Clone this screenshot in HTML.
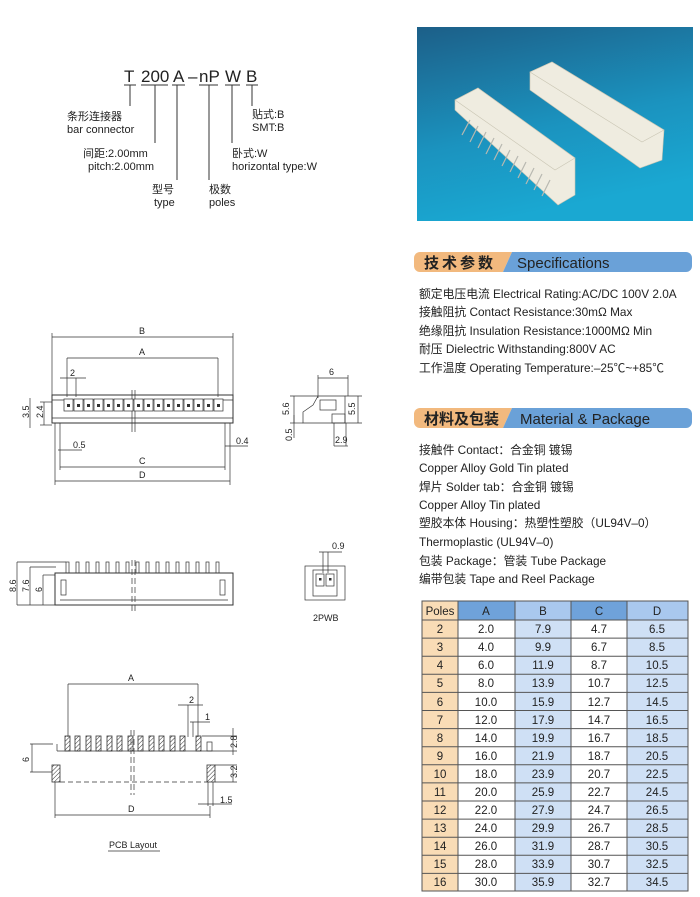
<!DOCTYPE html>
<html><head><meta charset="utf-8"><style>
html,body{margin:0;padding:0;background:#fff;}
svg{display:block;}
text{font-family:"Liberation Sans","Noto Sans CJK SC",sans-serif;fill:#222;}
</style></head><body>
<svg width="700" height="897" viewBox="0 0 700 897" xmlns="http://www.w3.org/2000/svg">
<defs>
<linearGradient id="bg" x1="0" y1="0" x2="0.3" y2="1">
<stop offset="0" stop-color="#1c5f88"/><stop offset="0.6" stop-color="#1b93bf"/><stop offset="1" stop-color="#1aa8d2"/></linearGradient>
<pattern id="hatch" width="3" height="3" patternUnits="userSpaceOnUse" patternTransform="rotate(45)"><line x1="0" y1="0" x2="0" y2="3" stroke="#333" stroke-width="1"/></pattern>
</defs>

<!-- Part number -->
<g font-size="17">
<text x="124" y="82">T</text><text x="141" y="82">200</text><text x="173" y="82">A</text><text x="188" y="82">–</text>
<text x="199" y="82">nP</text><text x="225" y="82">W</text><text x="246" y="82">B</text>
</g>
<g stroke="#333" stroke-width="1" fill="none">
<line x1="124" y1="85" x2="136" y2="85"/><line x1="141" y1="85" x2="168" y2="85"/><line x1="172" y1="85" x2="185" y2="85"/>
<line x1="199" y1="85" x2="218" y2="85"/><line x1="225" y1="85" x2="240" y2="85"/><line x1="246" y1="85" x2="258" y2="85"/>
<line x1="130" y1="85" x2="130" y2="106"/><line x1="155" y1="85" x2="155" y2="143"/><line x1="177" y1="85" x2="177" y2="180"/>
<line x1="209" y1="85" x2="209" y2="180"/><line x1="232" y1="85" x2="232" y2="143"/><line x1="252" y1="85" x2="252" y2="106"/>
</g>
<g font-size="11">
<text x="67" y="120">条形连接器</text><text x="67" y="133">bar connector</text>
<text x="83" y="157">间距:2.00mm</text><text x="88" y="170">pitch:2.00mm</text>
<text x="152" y="193">型号</text><text x="154" y="206">type</text>
<text x="209" y="193">极数</text><text x="209" y="206">poles</text>
<text x="232" y="157">卧式:W</text><text x="232" y="170">horizontal type:W</text>
<text x="252" y="118">贴式:B</text><text x="252" y="131">SMT:B</text>
</g>

<!-- Photo -->
<rect x="417" y="27" width="276" height="194" fill="url(#bg)"/>
<g fill="#efece0" stroke="#c9c5b3" stroke-width="0.6">
<polygon points="455,100 478,88 575,158 575,195 558,205 455,110"/>
<polygon points="530,72 552,62 664,130 662,160 640,168 530,90"/>
<polygon points="455,100 478,88 575,158 555,170"/>
<polygon points="530,72 552,62 664,130 642,142"/>
</g>
<g stroke="#b8b8b0" stroke-width="1.2">
<line x1="470" y1="120" x2="462" y2="135"/><line x1="478" y1="126" x2="470" y2="142"/><line x1="486" y1="132" x2="478" y2="148"/><line x1="494" y1="138" x2="486" y2="154"/><line x1="502" y1="144" x2="494" y2="160"/><line x1="510" y1="150" x2="502" y2="166"/><line x1="518" y1="156" x2="510" y2="172"/><line x1="526" y1="162" x2="518" y2="178"/><line x1="534" y1="168" x2="526" y2="184"/><line x1="542" y1="174" x2="534" y2="190"/><line x1="550" y1="180" x2="542" y2="196"/>
</g>

<!-- Spec header -->
<path d="M420,252 H512 L503,272 H420 A6,6 0 0 1 414,266 V258 A6,6 0 0 1 420,252Z" fill="#f2b97e"/>
<path d="M512,252 H686 A6,6 0 0 1 692,258 V266 A6,6 0 0 1 686,272 H503Z" fill="#6aa1d8"/>
<text x="424" y="268" font-size="15" font-weight="bold" letter-spacing="3">技术参数</text>
<text x="517" y="268" font-size="15">Specifications</text>
<g font-size="11.8">
<text x="419" y="298">额定电压电流 Electrical Rating:AC/DC 100V 2.0A</text>
<text x="419" y="316">接触阻抗 Contact Resistance:30mΩ Max</text>
<text x="419" y="335">绝缘阻抗 Insulation Resistance:1000MΩ Min</text>
<text x="419" y="353">耐压 Dielectric Withstanding:800V AC</text>
<text x="419" y="372">工作温度 Operating Temperature:–25℃~+85℃</text>
</g>
<path d="M420,408 H512 L503,428 H420 A6,6 0 0 1 414,422 V414 A6,6 0 0 1 420,408Z" fill="#f2b97e"/>
<path d="M512,408 H686 A6,6 0 0 1 692,414 V422 A6,6 0 0 1 686,428 H503Z" fill="#6aa1d8"/>
<text x="424" y="424" font-size="15" font-weight="bold">材料及包装</text>
<text x="520" y="424" font-size="15">Material &amp; Package</text>
<g font-size="11.8">
<text x="419" y="454">接触件 Contact：合金铜 镀锡</text>
<text x="419" y="472">Copper Alloy Gold Tin plated</text>
<text x="419" y="491">焊片 Solder tab：合金铜 镀锡</text>
<text x="419" y="509">Copper Alloy Tin plated</text>
<text x="419" y="527">塑胶本体 Housing：热塑性塑胶（UL94V–0）</text>
<text x="419" y="546">Thermoplastic (UL94V–0)</text>
<text x="419" y="565">包装 Package：管装 Tube Package</text>
<text x="419" y="583">编带包装 Tape and Reel Package</text>
</g>

<!-- Table -->
<g>
<rect x="422" y="601" width="36" height="290" fill="#f9dcb6"/>
<rect x="458" y="601" width="57" height="19" fill="#6fa2da"/>
<rect x="515" y="601" width="56" height="19" fill="#a9c8ee"/>
<rect x="571" y="601" width="56" height="19" fill="#6fa2da"/>
<rect x="627" y="601" width="61" height="19" fill="#a9c8ee"/>
<rect x="515" y="620" width="56" height="271" fill="#cfe0f5"/>
<rect x="627" y="620" width="61" height="271" fill="#cfe0f5"/>
<g stroke="#555" stroke-width="1" fill="none">
<rect x="422" y="601" width="266" height="290"/>
<line x1="458" y1="601" x2="458" y2="891"/><line x1="515" y1="601" x2="515" y2="891"/><line x1="571" y1="601" x2="571" y2="891"/><line x1="627" y1="601" x2="627" y2="891"/>
<line x1="422" y1="620" x2="688" y2="620"/><line x1="422" y1="638.1" x2="688" y2="638.1"/><line x1="422" y1="656.2" x2="688" y2="656.2"/><line x1="422" y1="674.3" x2="688" y2="674.3"/><line x1="422" y1="692.4" x2="688" y2="692.4"/><line x1="422" y1="710.5" x2="688" y2="710.5"/><line x1="422" y1="728.6" x2="688" y2="728.6"/><line x1="422" y1="746.7" x2="688" y2="746.7"/><line x1="422" y1="764.8" x2="688" y2="764.8"/><line x1="422" y1="782.9" x2="688" y2="782.9"/><line x1="422" y1="801" x2="688" y2="801"/><line x1="422" y1="819.1" x2="688" y2="819.1"/><line x1="422" y1="837.2" x2="688" y2="837.2"/><line x1="422" y1="855.3" x2="688" y2="855.3"/><line x1="422" y1="873.4" x2="688" y2="873.4"/>
</g>
<g font-size="11.5" text-anchor="middle">
<text x="440" y="615">Poles</text><text x="486" y="615">A</text><text x="543" y="615">B</text><text x="599" y="615">C</text><text x="657" y="615">D</text>
<text x="440" y="633">2</text><text x="486" y="633">2.0</text><text x="543" y="633">7.9</text><text x="599" y="633">4.7</text><text x="657" y="633">6.5</text>
<text x="440" y="651">3</text><text x="486" y="651">4.0</text><text x="543" y="651">9.9</text><text x="599" y="651">6.7</text><text x="657" y="651">8.5</text>
<text x="440" y="669">4</text><text x="486" y="669">6.0</text><text x="543" y="669">11.9</text><text x="599" y="669">8.7</text><text x="657" y="669">10.5</text>
<text x="440" y="687">5</text><text x="486" y="687">8.0</text><text x="543" y="687">13.9</text><text x="599" y="687">10.7</text><text x="657" y="687">12.5</text>
<text x="440" y="706">6</text><text x="486" y="706">10.0</text><text x="543" y="706">15.9</text><text x="599" y="706">12.7</text><text x="657" y="706">14.5</text>
<text x="440" y="724">7</text><text x="486" y="724">12.0</text><text x="543" y="724">17.9</text><text x="599" y="724">14.7</text><text x="657" y="724">16.5</text>
<text x="440" y="742">8</text><text x="486" y="742">14.0</text><text x="543" y="742">19.9</text><text x="599" y="742">16.7</text><text x="657" y="742">18.5</text>
<text x="440" y="760">9</text><text x="486" y="760">16.0</text><text x="543" y="760">21.9</text><text x="599" y="760">18.7</text><text x="657" y="760">20.5</text>
<text x="440" y="778">10</text><text x="486" y="778">18.0</text><text x="543" y="778">23.9</text><text x="599" y="778">20.7</text><text x="657" y="778">22.5</text>
<text x="440" y="796">11</text><text x="486" y="796">20.0</text><text x="543" y="796">25.9</text><text x="599" y="796">22.7</text><text x="657" y="796">24.5</text>
<text x="440" y="814">12</text><text x="486" y="814">22.0</text><text x="543" y="814">27.9</text><text x="599" y="814">24.7</text><text x="657" y="814">26.5</text>
<text x="440" y="832">13</text><text x="486" y="832">24.0</text><text x="543" y="832">29.9</text><text x="599" y="832">26.7</text><text x="657" y="832">28.5</text>
<text x="440" y="850">14</text><text x="486" y="850">26.0</text><text x="543" y="850">31.9</text><text x="599" y="850">28.7</text><text x="657" y="850">30.5</text>
<text x="440" y="868">15</text><text x="486" y="868">28.0</text><text x="543" y="868">33.9</text><text x="599" y="868">30.7</text><text x="657" y="868">32.5</text>
<text x="440" y="886">16</text><text x="486" y="886">30.0</text><text x="543" y="886">35.9</text><text x="599" y="886">32.7</text><text x="657" y="886">34.5</text>
</g>
</g>

<!-- Front view -->
<g stroke="#333" stroke-width="0.7" fill="none">
<line x1="52" y1="337" x2="233" y2="337"/><line x1="52" y1="333" x2="52" y2="395"/><line x1="233" y1="333" x2="233" y2="395"/>
<line x1="67" y1="358" x2="218" y2="358"/><line x1="67" y1="358" x2="67" y2="397"/><line x1="218" y1="358" x2="218" y2="397"/>
<line x1="60" y1="378" x2="86" y2="378"/><line x1="76" y1="378" x2="76" y2="397"/>
<rect x="52" y="395" width="181" height="28" stroke-width="1"/>
<line x1="52" y1="400" x2="233" y2="400"/><line x1="52" y1="418" x2="233" y2="418"/>
<line x1="60" y1="423" x2="60" y2="470"/><line x1="225" y1="423" x2="225" y2="470"/>
<line x1="55" y1="423" x2="55" y2="485"/><line x1="230" y1="423" x2="230" y2="485"/>
<line x1="60" y1="467" x2="225" y2="467"/><line x1="55" y1="481" x2="230" y2="481"/>
<line x1="58" y1="450" x2="82" y2="450"/><line x1="225" y1="446" x2="248" y2="446"/>
<line x1="44" y1="402" x2="44" y2="425"/><line x1="30" y1="398" x2="30" y2="428"/>
<line x1="40" y1="402" x2="52" y2="402"/><line x1="40" y1="425" x2="52" y2="425"/>
<line x1="132" y1="390" x2="132" y2="432"/><line x1="135" y1="390" x2="135" y2="432"/>
</g>
<g fill="#fff" stroke="#333" stroke-width="0.7">
<rect x="64" y="399" width="9" height="12"/><rect x="74" y="399" width="9" height="12"/><rect x="84" y="399" width="9" height="12"/><rect x="94" y="399" width="9" height="12"/><rect x="104" y="399" width="9" height="12"/><rect x="114" y="399" width="9" height="12"/><rect x="124" y="399" width="9" height="12"/><rect x="134" y="399" width="9" height="12"/><rect x="144" y="399" width="9" height="12"/><rect x="154" y="399" width="9" height="12"/><rect x="164" y="399" width="9" height="12"/><rect x="174" y="399" width="9" height="12"/><rect x="184" y="399" width="9" height="12"/><rect x="194" y="399" width="9" height="12"/><rect x="204" y="399" width="9" height="12"/><rect x="214" y="399" width="9" height="12"/>
</g>
<g fill="#333">
<rect x="67" y="404" width="3" height="3"/><rect x="77" y="404" width="3" height="3"/><rect x="87" y="404" width="3" height="3"/><rect x="97" y="404" width="3" height="3"/><rect x="107" y="404" width="3" height="3"/><rect x="117" y="404" width="3" height="3"/><rect x="127" y="404" width="3" height="3"/><rect x="137" y="404" width="3" height="3"/><rect x="147" y="404" width="3" height="3"/><rect x="157" y="404" width="3" height="3"/><rect x="167" y="404" width="3" height="3"/><rect x="177" y="404" width="3" height="3"/><rect x="187" y="404" width="3" height="3"/><rect x="197" y="404" width="3" height="3"/><rect x="207" y="404" width="3" height="3"/><rect x="217" y="404" width="3" height="3"/>
</g>
<g font-size="9">
<text x="139" y="334">B</text><text x="139" y="355">A</text><text x="70" y="376">2</text>
<text x="73" y="448">0.5</text><text x="236" y="444">0.4</text><text x="139" y="464">C</text><text x="139" y="478">D</text>
<text transform="translate(43,418) rotate(-90)">2.4</text><text transform="translate(29,418) rotate(-90)">3.5</text>
</g>

<!-- Side view -->
<g stroke="#333" stroke-width="0.7" fill="none">
<line x1="318" y1="378" x2="348" y2="378"/><line x1="318" y1="375" x2="318" y2="398"/><line x1="348" y1="375" x2="348" y2="396"/>
<polyline points="318,396 345,396 345,423 303,423 303,412 313,405 318,396"/>
<rect x="320" y="400" width="16" height="10"/><rect x="332" y="414" width="13" height="9"/>
<line x1="290" y1="396" x2="318" y2="396"/><line x1="290" y1="423" x2="303" y2="423"/><line x1="294" y1="396" x2="294" y2="423"/>
<line x1="345" y1="396" x2="362" y2="396"/><line x1="345" y1="423" x2="362" y2="423"/><line x1="358" y1="396" x2="358" y2="423"/>
<line x1="294" y1="415" x2="294" y2="438"/><line x1="334" y1="423" x2="334" y2="446"/><line x1="346" y1="423" x2="346" y2="446"/><line x1="334" y1="446" x2="348" y2="446"/>
</g>
<g font-size="9">
<text x="329" y="375">6</text><text x="335" y="443">2.9</text>
<text transform="translate(289,415) rotate(-90)">5.6</text><text transform="translate(355,415) rotate(-90)">5.5</text>
<text transform="translate(292,441) rotate(-90)">0.5</text>
</g>

<!-- Elevation -->
<g stroke="#333" stroke-width="0.7" fill="none">
<rect x="55" y="573" width="178" height="32" stroke-width="1"/>
<line x1="60" y1="600" x2="228" y2="600"/>
<rect x="61" y="580" width="5" height="15"/><rect x="220" y="580" width="5" height="15"/>
<rect x="66" y="562" width="3" height="11"/><rect x="76" y="562" width="3" height="11"/><rect x="86" y="562" width="3" height="11"/><rect x="96" y="562" width="3" height="11"/><rect x="106" y="562" width="3" height="11"/><rect x="116" y="562" width="3" height="11"/><rect x="126" y="562" width="3" height="11"/><rect x="136" y="562" width="3" height="11"/><rect x="146" y="562" width="3" height="11"/><rect x="156" y="562" width="3" height="11"/><rect x="166" y="562" width="3" height="11"/><rect x="176" y="562" width="3" height="11"/><rect x="186" y="562" width="3" height="11"/><rect x="196" y="562" width="3" height="11"/><rect x="206" y="562" width="3" height="11"/><rect x="216" y="562" width="3" height="11"/>
<line x1="17" y1="562" x2="66" y2="562"/><line x1="17" y1="605" x2="55" y2="605"/><line x1="17" y1="562" x2="17" y2="605"/>
<line x1="30" y1="567" x2="56" y2="567"/><line x1="30" y1="567" x2="30" y2="605"/>
<line x1="43" y1="575" x2="55" y2="575"/><line x1="43" y1="575" x2="43" y2="605"/>
<line x1="132" y1="560" x2="132" y2="614" stroke-dasharray="6,3"/><line x1="135" y1="560" x2="135" y2="614" stroke-dasharray="6,3"/>
<rect x="305" y="566" width="40" height="34"/><rect x="313" y="570" width="24" height="26"/>
<rect x="316" y="574" width="8" height="12"/><rect x="326" y="574" width="8" height="12"/>
<line x1="319" y1="552" x2="342" y2="552"/><line x1="323" y1="552" x2="323" y2="573"/><line x1="328" y1="552" x2="328" y2="573"/>
</g>
<rect x="319" y="578" width="2.5" height="2.5" fill="#333"/><rect x="329" y="578" width="2.5" height="2.5" fill="#333"/>
<g font-size="9">
<text x="332" y="549">0.9</text><text x="313" y="621">2PWB</text>
<text transform="translate(16,592) rotate(-90)">8.6</text><text transform="translate(29,592) rotate(-90)">7.6</text><text transform="translate(42,592) rotate(-90)">6</text>
</g>

<!-- PCB layout -->
<g stroke="#333" stroke-width="0.7" fill="none">
<line x1="68" y1="684" x2="198" y2="684"/><line x1="68" y1="684" x2="68" y2="737"/><line x1="198" y1="684" x2="198" y2="737"/>
<line x1="178" y1="705" x2="203" y2="705"/><line x1="188" y1="705" x2="188" y2="737"/>
<line x1="190" y1="722" x2="210" y2="722"/><line x1="193" y1="722" x2="193" y2="737"/>
<line x1="202" y1="736" x2="237" y2="736"/><line x1="210" y1="751" x2="237" y2="751"/><line x1="233" y1="728" x2="233" y2="755"/>
<line x1="215" y1="765" x2="237" y2="765"/><line x1="215" y1="782" x2="237" y2="782"/><line x1="233" y1="765" x2="233" y2="782"/>
<line x1="208" y1="782" x2="208" y2="806"/><line x1="213" y1="782" x2="213" y2="806"/><line x1="198" y1="804" x2="232" y2="804"/>
<line x1="55" y1="782" x2="55" y2="818"/><line x1="210" y1="806" x2="210" y2="818"/><line x1="55" y1="815" x2="210" y2="815"/>
<line x1="30" y1="744" x2="53" y2="744"/><line x1="30" y1="772" x2="52" y2="772"/><line x1="32" y1="744" x2="32" y2="772"/>
<line x1="57" y1="744" x2="57" y2="751"/><line x1="57" y1="751" x2="210" y2="751"/>
<line x1="60" y1="782" x2="207" y2="782" stroke-dasharray="5,3"/>
<line x1="131" y1="730" x2="131" y2="795" stroke-dasharray="6,3"/><line x1="134" y1="730" x2="134" y2="795" stroke-dasharray="6,3"/>
<rect x="207" y="742" width="5" height="9"/>
<line x1="108" y1="851" x2="160" y2="851"/>
</g>
<g stroke="#333" stroke-width="0.8" fill="url(#hatch)">
<rect x="65" y="736" width="5" height="15"/><rect x="75" y="736" width="5" height="15"/><rect x="86" y="736" width="5" height="15"/><rect x="96" y="736" width="5" height="15"/><rect x="107" y="736" width="5" height="15"/><rect x="117" y="736" width="5" height="15"/><rect x="128" y="736" width="5" height="15"/><rect x="138" y="736" width="5" height="15"/><rect x="149" y="736" width="5" height="15"/><rect x="159" y="736" width="5" height="15"/><rect x="170" y="736" width="5" height="15"/><rect x="180" y="736" width="5" height="15"/><rect x="196" y="736" width="5" height="15"/>
<rect x="52" y="765" width="8" height="17"/><rect x="207" y="765" width="8" height="17"/>
</g>
<g font-size="9">
<text x="128" y="681">A</text><text x="189" y="703">2</text><text x="205" y="720">1</text>
<text x="220" y="803">1.5</text><text x="128" y="812">D</text><text x="109" y="848">PCB Layout</text>
<text transform="translate(237,748) rotate(-90)">2.8</text><text transform="translate(237,778) rotate(-90)">3.2</text>
<text transform="translate(29,762) rotate(-90)">6</text>
</g>
</svg>
</body></html>
